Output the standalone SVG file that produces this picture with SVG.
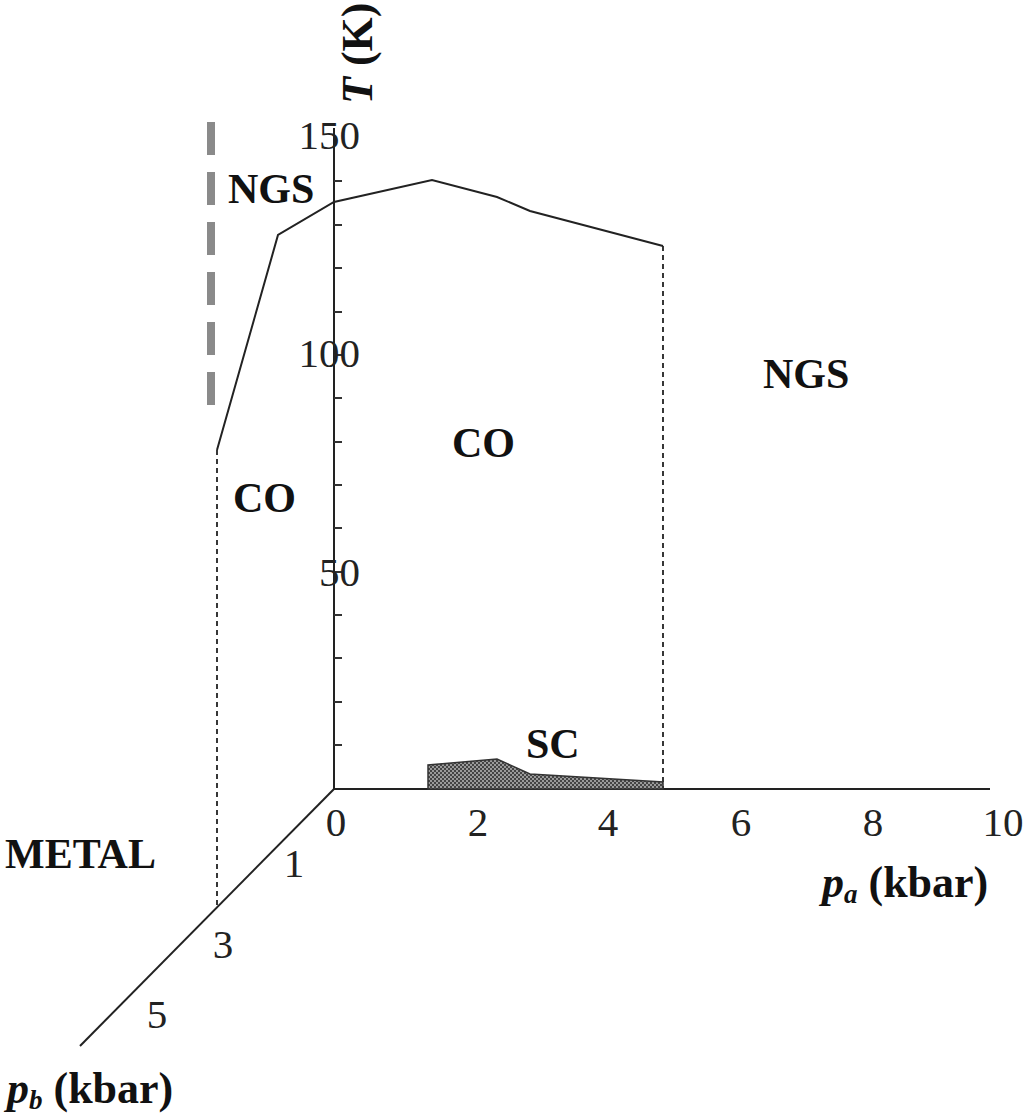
<svg xmlns="http://www.w3.org/2000/svg" width="1024" height="1119" viewBox="0 0 1024 1119">
<style>
.ax{stroke:#222;stroke-width:2;fill:none}
.tk{stroke:#333;stroke-width:2}
.dash{stroke:#222;stroke-width:1.8;stroke-dasharray:5 4;fill:none}
.num{font-family:"Liberation Serif",serif;font-size:41px;fill:#222}
.lab{font-family:"Liberation Serif",serif;font-size:42px;font-weight:bold;fill:#111}
.tit{font-family:"Liberation Serif",serif;font-size:44px;font-weight:bold;fill:#111}
</style>
<defs>
<pattern id="hatch" width="4" height="4" patternUnits="userSpaceOnUse">
<rect width="4" height="4" fill="#9a9a9a"/>
<rect width="2" height="2" fill="#444"/>
<rect x="2" y="2" width="2" height="2" fill="#444"/>
</pattern>
</defs>
<rect width="1024" height="1119" fill="#fff"/>
<g id="axes">
<line class="ax" x1="334" y1="789" x2="334" y2="128"/>
<line class="ax" x1="334" y1="789" x2="990" y2="789"/>
<line class="ax" x1="334" y1="789" x2="80" y2="1046"/>
<g class="tk">
<line x1="334" y1="745" x2="342" y2="745"/>
<line x1="334" y1="702" x2="342" y2="702"/>
<line x1="334" y1="658" x2="342" y2="658"/>
<line x1="334" y1="615" x2="342" y2="615"/>
<line x1="334" y1="572" x2="342" y2="572"/>
<line x1="334" y1="528" x2="342" y2="528"/>
<line x1="334" y1="485" x2="342" y2="485"/>
<line x1="334" y1="442" x2="342" y2="442"/>
<line x1="334" y1="398" x2="342" y2="398"/>
<line x1="334" y1="355" x2="342" y2="355"/>
<line x1="334" y1="312" x2="342" y2="312"/>
<line x1="334" y1="268" x2="342" y2="268"/>
<line x1="334" y1="225" x2="342" y2="225"/>
<line x1="334" y1="181" x2="342" y2="181"/>
</g>
<g class="num" text-anchor="end">
<text x="360" y="149">150</text>
<text x="360" y="367">100</text>
<text x="360" y="586">50</text>
</g>
<g class="num" text-anchor="middle">
<text x="336" y="836">0</text>
<text x="478" y="836">2</text>
<text x="608" y="836">4</text>
<text x="741" y="836">6</text>
<text x="873" y="836">8</text>
<text x="1003" y="836">10</text>
<text x="294" y="877">1</text>
<text x="223" y="958">3</text>
<text x="157" y="1028">5</text>
</g>
<text class="tit" transform="translate(372,104) rotate(-90)" font-size="37"><tspan font-style="italic">T</tspan> (K)</text>
<text class="tit" x="822" y="897"><tspan font-style="italic">p</tspan><tspan font-style="italic" font-size="27" dy="6">a</tspan><tspan dy="-6"> (kbar)</tspan></text>
<text class="tit" x="7" y="1103"><tspan font-style="italic">p</tspan><tspan font-style="italic" font-size="27" dy="6">b</tspan><tspan dy="-6"> (kbar)</tspan></text>
</g>
<g id="connectors">
<line class="dash" x1="217" y1="450" x2="217" y2="908"/>
<line class="dash" x1="663" y1="246" x2="663" y2="789"/>
<polyline class="ax" points="217,450 278,235 334,202 432,180 497,197 530,211 663,246"/>
<line x1="211" y1="122" x2="211" y2="406" stroke="#8a8a8a" stroke-width="8" stroke-dasharray="33 17" stroke-linecap="butt"/>
</g>
<g id="sc-region">
<path d="M428,789 L428,765 L497,759 L530,774 L663,782 L663,789 Z" fill="url(#hatch)" stroke="#333" stroke-width="1.5"/>
</g>
<g id="node-ngs-left"><text class="lab" x="228" y="203">NGS</text></g>
<g id="node-ngs-right"><text class="lab" x="763" y="388">NGS</text></g>
<g id="node-co-center"><text class="lab" x="452" y="457">CO</text></g>
<g id="node-co-left"><text class="lab" x="233" y="512">CO</text></g>
<g id="node-sc"><text class="lab" x="526" y="758">SC</text></g>
<g id="node-metal"><text class="lab" x="5" y="868">METAL</text></g>
</svg>
